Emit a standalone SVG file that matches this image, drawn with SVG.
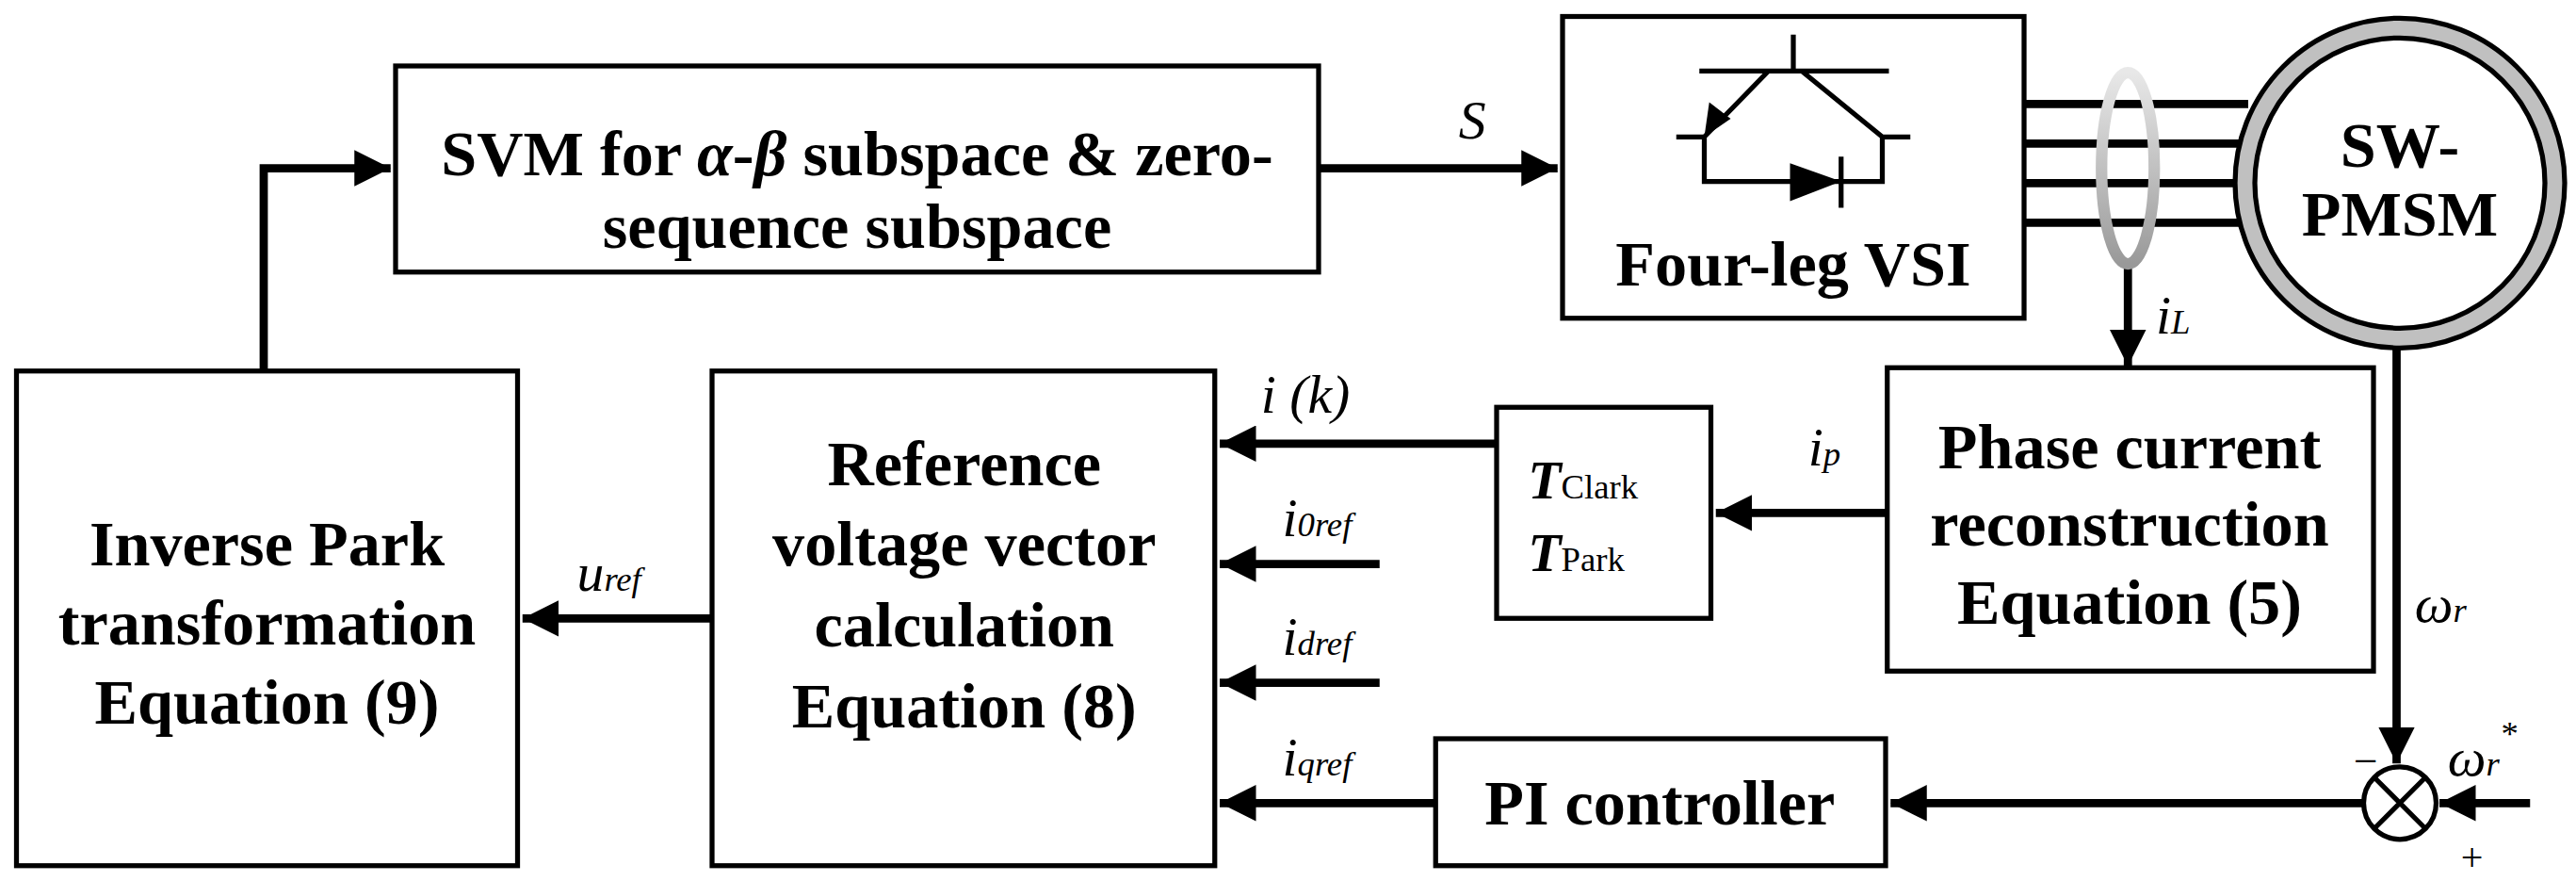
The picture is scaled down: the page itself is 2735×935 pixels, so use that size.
<svg xmlns="http://www.w3.org/2000/svg" width="2735" height="935" viewBox="0 0 2735 935">
<defs>
<style>
.box{fill:#fff;stroke:#000;stroke-width:3}
.ln{fill:none;stroke:#000;stroke-width:5}
.thin{fill:none;stroke:#000;stroke-width:3}
.t{font-family:"Liberation Serif",serif;font-weight:bold;font-size:39px;text-anchor:middle}
.m{font-family:"Liberation Serif",serif;font-style:italic;font-size:33px}
.s{font-size:21px}
</style>
<marker id="ar" viewBox="0 0 20 20" refX="20" refY="10" markerWidth="4.4" markerHeight="4.4" markerUnits="strokeWidth" orient="auto"><path d="M0,0L20,10L0,20Z"/></marker>
<linearGradient id="rg" x1="0" y1="0" x2="0" y2="1"><stop offset="0" stop-color="#e8e8e8"/><stop offset="1" stop-color="#999"/></linearGradient>
</defs>
<rect width="2735" height="935" fill="#fff"/>
<g transform="scale(1.75)">
<g id="connectors">
<path class="ln" d="M160,225V102H237" marker-end="url(#ar)"/>
<path class="ln" d="M800,102H945" marker-end="url(#ar)"/>
<path class="ln" d="M1228,63H1364M1228,87H1360M1228,111H1358M1228,135H1360"/>
<path class="ln" d="M1291,160V222" marker-end="url(#ar)"/>
<path class="ln" d="M1454,209V463" marker-end="url(#ar)"/>
<path class="ln" d="M1535,487H1480" marker-end="url(#ar)"/>
<path class="ln" d="M1434,487H1147" marker-end="url(#ar)"/>
<path class="ln" d="M871,487H740" marker-end="url(#ar)"/>
<path class="ln" d="M908,269H740" marker-end="url(#ar)"/>
<path class="ln" d="M1145,311H1041" marker-end="url(#ar)"/>
<path class="ln" d="M837,342H740" marker-end="url(#ar)"/>
<path class="ln" d="M837,414H740" marker-end="url(#ar)"/>
<path class="ln" d="M432,375H317" marker-end="url(#ar)"/>
</g>
<g id="svm"><rect class="box" x="240" y="40" width="560" height="125"/>
<text class="t" x="520" y="106">SVM for <tspan font-style="italic">α</tspan>-<tspan font-style="italic">β</tspan> subspace &amp; zero-</text>
<text class="t" x="520" y="150">sequence subspace</text></g>
<text class="m" x="885" y="84">S</text>
<g id="vsi"><rect class="box" x="948" y="10" width="280" height="183"/>
<path class="thin" d="M1088,21V43M1031,43H1146M1073,43L1034,83M1093,43L1142,83M1017,83H1034M1142,83H1159M1034,83V110H1142V83M1117,95V126"/>
<path d="M1086,99L1086,122L1117,110Z"/>
<path d="M1034,83L1037,62L1050,72Z"/>
<text class="t" x="1088" y="173">Four-leg VSI</text></g>
<g id="ring"><ellipse cx="1291" cy="102" rx="16" ry="58" fill="none" stroke="url(#rg)" stroke-width="7"/></g>
<g id="motor"><circle cx="1456" cy="111" r="94" fill="none" stroke="#c0c0c0" stroke-width="12"/>
<circle cx="1456" cy="111" r="100" fill="none" stroke="#000" stroke-width="3"/>
<circle cx="1456" cy="111" r="88" fill="#fff" stroke="#000" stroke-width="3"/>
<text class="t" x="1456" y="101" font-size="33">SW-</text>
<text class="t" x="1456" y="143" font-size="33">PMSM</text></g>
<text class="m" x="1308" y="202">i<tspan class="s">L</tspan></text>
<g id="phase"><rect class="box" x="1145" y="223" width="295" height="184"/>
<text class="t" x="1292" y="284">Phase current</text>
<text class="t" x="1292" y="331">reconstruction</text>
<text class="t" x="1292" y="378">Equation (5)</text></g>
<text class="m" x="1097" y="282">i<tspan class="s">p</tspan></text>
<g id="trans"><rect class="box" x="908" y="247" width="130" height="128"/>
<text class="m" x="927" y="302" font-weight="bold" font-size="36">T<tspan font-style="normal" font-weight="normal" class="s">Clark</tspan></text>
<text class="m" x="927" y="346" font-weight="bold" font-size="36">T<tspan font-style="normal" font-weight="normal" class="s">Park</tspan></text></g>
<text class="m" x="765" y="250">i (k)</text>
<text class="m" x="778" y="325">i<tspan class="s">0ref</tspan></text>
<text class="m" x="778" y="397">i<tspan class="s">dref</tspan></text>
<text class="m" x="778" y="470">i<tspan class="s">qref</tspan></text>
<g id="ref"><rect class="box" x="432" y="225" width="305" height="300"/>
<text class="t" x="585" y="294">Reference</text>
<text class="t" x="585" y="343">voltage vector</text>
<text class="t" x="585" y="392">calculation</text>
<text class="t" x="585" y="441">Equation (8)</text></g>
<g id="inv"><rect class="box" x="10" y="225" width="304" height="300"/>
<text class="t" x="162" y="343">Inverse Park</text>
<text class="t" x="162" y="391">transformation</text>
<text class="t" x="162" y="439">Equation (9)</text></g>
<text class="m" x="350" y="358">u<tspan class="s">ref</tspan></text>
<g id="pi"><rect class="box" x="871" y="448" width="273" height="77"/>
<text class="t" x="1007" y="500">PI controller</text></g>
<g id="sum"><circle cx="1456" cy="487" r="22" fill="#fff" stroke="#000" stroke-width="3"/>
<path class="thin" d="M1440,471L1472,503M1472,471L1440,503" stroke-width="2"/></g>
<text x="1428" y="470" font-family="Liberation Serif,serif" font-size="26">−</text>
<text x="1493" y="528" font-family="Liberation Serif,serif" font-size="24">+</text>
<text class="m" x="1465" y="377">ω<tspan class="s">r</tspan></text>
<text class="m" x="1485" y="470">ω<tspan class="s">r</tspan><tspan class="s" dy="-18">*</tspan></text>
</g>
</svg>
